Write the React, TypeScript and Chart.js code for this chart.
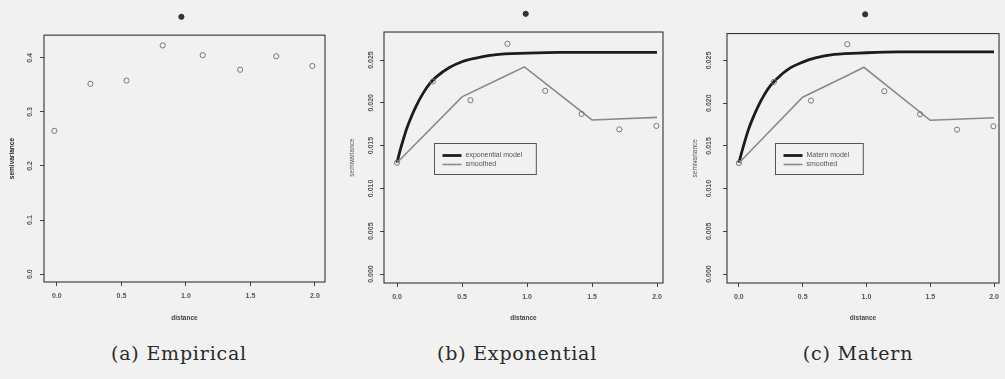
import React, { useEffect, useRef } from 'react';
import { Chart, registerables } from 'chart.js';

Chart.register(...registerables);

// ---------- data ----------
const distA = [-0.02, 0.26, 0.54, 0.82, 0.965, 1.13, 1.42, 1.7, 1.98];
const semivarA = [0.265, 0.352, 0.358, 0.423, 0.476, 0.405, 0.378, 0.403, 0.385];

const distBC = [0.0, 0.275, 0.565, 0.85, 0.99, 1.14, 1.42, 1.71, 1.995];
const semivarBC = [0.013, 0.0225, 0.0203, 0.0269, 0.0304, 0.0214, 0.0187, 0.0169, 0.0173];

const modelDist = [0, 0.025, 0.05, 0.075, 0.1, 0.15, 0.2, 0.25, 0.3, 0.4, 0.5, 0.6, 0.75, 1.0, 1.25, 1.5, 1.75, 2.0];
const expModel = [0.013, 0.0145, 0.0158, 0.017, 0.018, 0.0197, 0.0211, 0.0222, 0.023, 0.0241, 0.0248, 0.0252, 0.0256, 0.0258, 0.0259, 0.0259, 0.0259, 0.0259];
const maternModel = [0.013, 0.0144, 0.0157, 0.0169, 0.0179, 0.0196, 0.021, 0.0221, 0.0229, 0.0241, 0.0248, 0.0253, 0.0257, 0.0259, 0.026, 0.026, 0.026, 0.026];

const smoothDist = [0, 0.5, 0.83, 0.98, 1.5, 2.0];
const smoothVals = [0.013, 0.0207, 0.0231, 0.0242, 0.018, 0.0183];

const xTicks = [0, 0.5, 1, 1.5, 2];
const xTickLabels = ['0.0', '0.5', '1.0', '1.5', '2.0'];
const yTicksA = [0, 0.1, 0.2, 0.3, 0.4];
const yTickLabelsA = ['0.0', '0.1', '0.2', '0.3', '0.4'];
const yTicksBC = [0, 0.005, 0.01, 0.015, 0.02, 0.025];
const yTickLabelsBC = ['0.000', '0.005', '0.010', '0.015', '0.020', '0.025'];

const captions = ['(a) Empirical', '(b) Exponential', '(c) Matern'];
const legendLabelsB = ['exponential model', 'smoothed'];
const legendLabelsC = ['Matern model', 'smoothed'];
const xTitle = 'distance';
const yTitle = 'semivariance';

// ---------- styling ----------
const BG = '#f1f1f1';
const FAMILY = '"Liberation Sans", Arial, sans-serif';
const TICK_FONT = { family: FAMILY, size: 7, weight: 'bold' as const };
const TITLE_FONT = { family: FAMILY, size: 6.5, weight: 'bold' as const };

// R-style box: plot-region frame whose top edge sits at the axis limit value,
// plus the y-axis title centred on that frame
const boxPlugin = {
  id: 'rbox',
  afterDraw(chart: any, _args: any, opts: any) {
    const { ctx, chartArea: a } = chart;
    const ys = chart.scales.y;
    const top = ys.getPixelForValue(opts.top);
    ctx.save();
    ctx.strokeStyle = '#333';
    ctx.lineWidth = 1.1;
    ctx.strokeRect(a.left, top, a.right - a.left, a.bottom - top);
    // y title
    ctx.translate(ys.left + 4.2, (top + a.bottom) / 2);
    ctx.rotate(-Math.PI / 2);
    ctx.font = `${opts.titleBold ? 'bold ' : ''}6.5px ${FAMILY}`;
    ctx.fillStyle = opts.titleBold ? '#222' : '#555';
    ctx.textAlign = 'center';
    ctx.textBaseline = 'middle';
    ctx.fillText(opts.yTitle, 0, 0);
    ctx.restore();
  },
};

const legendPlugin = {
  id: 'rlegend',
  afterDatasetsDraw(chart: any, _args: any, opts: any) {
    if (!opts || !opts.display) return;
    const { ctx } = chart;
    const xs = chart.scales.x;
    const ys = chart.scales.y;
    const left = Math.round(xs.getPixelForValue(opts.x)) + 0.5;
    const top = Math.round(ys.getPixelForValue(opts.y)) + 0.5;
    const items = chart.data.datasets
      .filter((d: any) => d.legendOrder !== undefined)
      .sort((p: any, q: any) => p.legendOrder - q.legendOrder);
    ctx.save();
    ctx.font = `7px ${FAMILY}`;
    const tw = Math.max(...items.map((d: any) => ctx.measureText(d.label).width));
    const w = 31 + tw + 14;
    const h = 31;
    ctx.fillStyle = BG;
    ctx.fillRect(left, top, w, h);
    ctx.strokeStyle = '#555';
    ctx.lineWidth = 1;
    ctx.strokeRect(left, top, w, h);
    items.forEach((d: any, i: number) => {
      const cy = top + 12 + i * 9;
      ctx.strokeStyle = d.borderColor;
      ctx.lineWidth = d.borderWidth;
      ctx.beginPath();
      ctx.moveTo(left + 8, cy);
      ctx.lineTo(left + 27, cy);
      ctx.stroke();
      ctx.fillStyle = '#555';
      ctx.textBaseline = 'middle';
      ctx.textAlign = 'left';
      ctx.fillText(d.label, left + 31, cy);
    });
    ctx.restore();
  },
};

type Panel = {
  left: number;
  padding: { left: number; right: number; top: number; bottom: number };
  xHeight: number;
  xMin: number;
  xMax: number;
  yMin: number;
  yMax: number;
  boxTop: number;
  yTicks: number[];
  yTickLabels: string[];
  yLabelPad: number;
  yTitleBold: boolean;
  pointsX: number[];
  pointsY: number[];
  model?: number[];
  legendLabels?: string[];
};

const panels: Panel[] = [
  {
    left: 0,
    padding: { left: 8, right: 10, top: 5.7, bottom: 18 },
    xHeight: 40,
    xMin: -0.1, xMax: 2.078,
    yMin: -0.0146, yMax: 0.49, boxTop: 0.442,
    yTicks: yTicksA, yTickLabels: yTickLabelsA, yLabelPad: 5, yTitleBold: true,
    pointsX: distA, pointsY: semivarA,
  },
  {
    left: 335,
    padding: { left: 13, right: 7, top: 8.65, bottom: 18 },
    xHeight: 39,
    xMin: -0.1, xMax: 2.046,
    yMin: -0.00105, yMax: 0.031, boxTop: 0.02827,
    yTicks: yTicksBC, yTickLabels: yTickLabelsBC, yLabelPad: 0, yTitleBold: false,
    pointsX: distBC, pointsY: semivarBC,
    model: expModel, legendLabels: legendLabelsB,
  },
  {
    left: 670,
    padding: { left: 21, right: 3, top: 8.65, bottom: 18 },
    xHeight: 39,
    xMin: -0.093, xMax: 2.039,
    yMin: -0.00105, yMax: 0.031, boxTop: 0.02815,
    yTicks: yTicksBC, yTickLabels: yTickLabelsBC, yLabelPad: 5, yTitleBold: false,
    pointsX: distBC, pointsY: semivarBC,
    model: maternModel, legendLabels: legendLabelsC,
  },
];

function PanelChart({ p }: { p: Panel }) {
  const ref = useRef<HTMLCanvasElement | null>(null);
  useEffect(() => {
    if (!ref.current) return;
    const datasets: any[] = [
      {
        label: 'empirical',
        data: p.pointsX.map((x, i) => ({ x, y: p.pointsY[i] })),
        showLine: false,
        pointRadius: 2.6,
        pointBorderWidth: 1,
        pointBorderColor: (c: any) => (c.raw && c.raw.y > p.boxTop ? '#333' : '#777'),
        pointBackgroundColor: (c: any) => (c.raw && c.raw.y > p.boxTop ? '#333' : 'rgba(0,0,0,0)'),
        clip: false,
      },
    ];
    if (p.model && p.legendLabels) {
      datasets.push({
        label: p.legendLabels[1],
        legendOrder: 1,
        data: smoothDist.map((x, i) => ({ x, y: smoothVals[i] })),
        showLine: true,
        borderColor: '#8a8a8a',
        borderWidth: 1.6,
        pointRadius: 0,
        tension: 0,
      });
      datasets.push({
        label: p.legendLabels[0],
        legendOrder: 0,
        data: modelDist.map((x, i) => ({ x, y: p.model![i] })),
        showLine: true,
        borderColor: '#1c1c1c',
        borderWidth: 2.8,
        pointRadius: 0,
        cubicInterpolationMode: 'monotone',
      });
    }
    const chart = new Chart(ref.current, {
      type: 'scatter',
      data: { datasets },
      plugins: [boxPlugin, legendPlugin],
      options: {
        animation: false,
        responsive: false,
        maintainAspectRatio: false,
        layout: { padding: p.padding },
        plugins: {
          legend: { display: false },
          tooltip: { enabled: false },
          rbox: { top: p.boxTop, yTitle, titleBold: p.yTitleBold },
          rlegend: { display: !!p.model, x: 0.285, y: 0.0153 },
        } as any,
        scales: {
          x: {
            type: 'linear',
            min: p.xMin,
            max: p.xMax,
            afterBuildTicks: (s: any) => { s.ticks = xTicks.map((v) => ({ value: v })); },
            afterFit: (s: any) => { s.height = p.xHeight; },
            ticks: {
              autoSkip: false,
              maxRotation: 0,
              minRotation: 0,
              padding: 6,
              color: '#555',
              font: TICK_FONT,
              callback: (_v: any, i: number) => xTickLabels[i],
            },
            grid: { drawOnChartArea: false, drawTicks: true, tickLength: 4, color: '#444', lineWidth: 1 },
            border: { display: false },
            title: { display: true, text: xTitle, color: '#444', font: TITLE_FONT, padding: 0 },
          },
          y: {
            type: 'linear',
            min: p.yMin,
            max: p.yMax,
            afterBuildTicks: (s: any) => { s.ticks = p.yTicks.map((v) => ({ value: v })); },
            afterFit: (s: any) => { s.width = 36; },
            ticks: {
              autoSkip: false,
              minRotation: 90,
              maxRotation: 90,
              crossAlign: 'center',
              padding: p.yLabelPad,
              color: '#555',
              font: TICK_FONT,
              callback: (_v: any, i: number) => p.yTickLabels[i],
            },
            grid: { drawOnChartArea: false, drawTicks: true, tickLength: 4, color: '#444', lineWidth: 1 },
            border: { display: false },
            title: { display: false },
          },
        },
      } as any,
    });
    return () => chart.destroy();
  }, [p]);
  return (
    <canvas
      ref={ref}
      width={335}
      height={340}
      style={{ position: 'absolute', left: p.left, top: 0, width: 335, height: 340 }}
    />
  );
}

const captionCenters = [179, 517, 858];

export default function App() {
  return (
    <div
      style={{
        position: 'fixed',
        left: 0,
        top: 0,
        width: 1005,
        height: 379,
        background: BG,
        overflow: 'hidden',
      }}
    >
      {panels.map((p, i) => (
        <PanelChart key={i} p={p} />
      ))}
      {captions.map((c, i) => (
        <div
          key={c}
          style={{
            position: 'absolute',
            left: captionCenters[i] - 150,
            width: 300,
            top: 341,
            textAlign: 'center',
            fontFamily: '"DejaVu Serif", serif',
            fontSize: 19,
            letterSpacing: '0.8px',
            lineHeight: '24px',
            color: '#2a2a2a',
          }}
        >
          {c}
        </div>
      ))}
    </div>
  );
}
